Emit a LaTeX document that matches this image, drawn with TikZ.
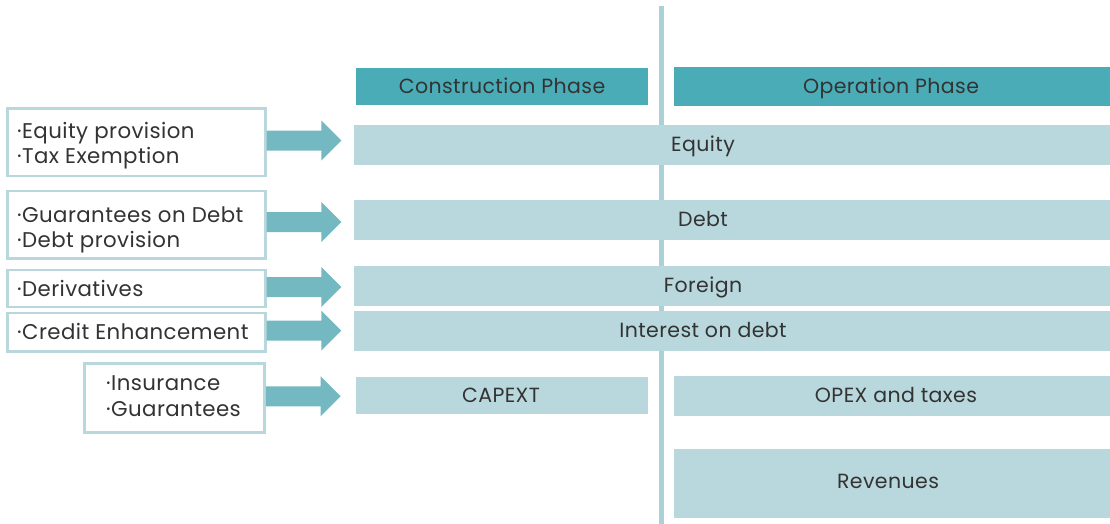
\documentclass[tikz,border=0pt]{standalone}
\usepackage{fontspec}
\setmainfont{Poppins}[LetterSpace=2]
\definecolor{headc}{HTML}{4AACB6}
\definecolor{barc}{HTML}{B9D8DD}
\definecolor{arrc}{HTML}{74B9C1}
\definecolor{linec}{HTML}{AAD1D7}
\definecolor{txtc}{HTML}{333333}
\tikzset{
  every node/.style={font=\fontsize{20.5}{25}\selectfont, text=txtc},
  headbox/.style={fill=headc, draw=none, inner sep=0pt},
  barbox/.style={fill=barc, draw=none, inner sep=0pt},
  srcbox/.style={draw=barc, line width=2.5pt, fill=white, inner sep=0pt},
  lbl/.style={inner sep=0pt, anchor=base},
  srctxt/.style={inner sep=0pt, anchor=base west, font=\fontsize{21.3}{25}\selectfont},
  fatarrow/.style={fill=arrc, draw=none}
}
\newcommand\fatarr[1]{% start coordinate name
  \fill[fatarrow] (#1) ++(0,-10) -- ++(54.7,0) -- ++(0,-10) -- ++(20,20) -- ++(-20,20) -- ++(0,-10) -- ++(-54.7,0) -- cycle;}
\begin{document}
\begin{tikzpicture}[x=1pt,y=-1pt]
\useasboundingbox (0,0) rectangle (1110,524);
% vertical divider
\coordinate (vtop) at (661.7,6);
\coordinate (vbot) at (661.7,524);
\draw[linec, line width=5pt] (vtop) -- (vbot);
% headers
\node[headbox, minimum width=292pt, minimum height=37pt] (hc) at (502,86.5) {};
\node[lbl] at (502,93.5) {Construction Phase};
\node[headbox, minimum width=436pt, minimum height=39pt] (ho) at (892,86.5) {};
\node[lbl] at (891,93.5) {Operation Phase};
% bars
\node[barbox, minimum width=756pt, minimum height=39.7pt] (beq) at (732,144.85) {};
\node[lbl] at (703,151.8) {Equity};
\node[barbox, minimum width=756pt, minimum height=39.7pt] (bdebt) at (732,219.85) {};
\node[lbl] at (703,226.8) {Debt};
\node[barbox, minimum width=756pt, minimum height=39.7pt] (bfor) at (732,285.85) {};
\node[lbl] at (703,292.8) {Foreign};
\node[barbox, minimum width=756pt, minimum height=39.7pt] (bint) at (732,330.85) {};
\node[lbl] at (703,337.8) {Interest on debt};
\node[barbox, minimum width=292pt, minimum height=37pt] (bcap) at (502,395) {};
\node[lbl] at (501,402) {CAPEXT};
\node[barbox, minimum width=436pt, minimum height=39.7pt] (bopex) at (892,395.85) {};
\node[lbl] at (896,402.7) {OPEX and taxes};
\node[barbox, minimum width=436pt, minimum height=68.7pt] (brev) at (892,483.35) {};
\node[lbl] at (888,488.3) {Revenues};
% source boxes
\node[srcbox, minimum width=258pt, minimum height=67.5pt] (s1) at (136.3,142.3) {};
\node[srctxt] at (17,138.3) {·Equity provision};
\node[srctxt] at (17,163.3) {·Tax Exemption};
\node[srcbox, minimum width=258pt, minimum height=67.5pt] (s2) at (136.3,224.7) {};
\node[srctxt] at (17,222.7) {·Guarantees on Debt};
\node[srctxt] at (17,247.7) {·Debt provision};
\node[srcbox, minimum width=258pt, minimum height=37pt] (s3) at (136.3,288.7) {};
\node[srctxt] at (17,296) {·Derivatives};
\node[srcbox, minimum width=258pt, minimum height=38.5pt] (s4) at (136.3,332) {};
\node[srctxt] at (17,339) {·Credit Enhancement};
\node[srcbox, minimum width=180pt, minimum height=69pt] (s5) at (174.6,397.8) {};
\node[srctxt] at (106,390.7) {·Insurance};
\node[srctxt] at (106,416) {·Guarantees};
% arrows
\coordinate (a1) at (s1.east |- 0,140.5);
\coordinate (a2) at (s2.east |- 0,222);
\coordinate (a3) at (s3.east |- 0,287);
\coordinate (a4) at (s4.east |- 0,330.7);
\coordinate (a5) at (s5.east |- 0,396.3);
\fatarr{a1}
\fatarr{a2}
\fatarr{a3}
\fatarr{a4}
\fatarr{a5}
\end{tikzpicture}
\end{document}
